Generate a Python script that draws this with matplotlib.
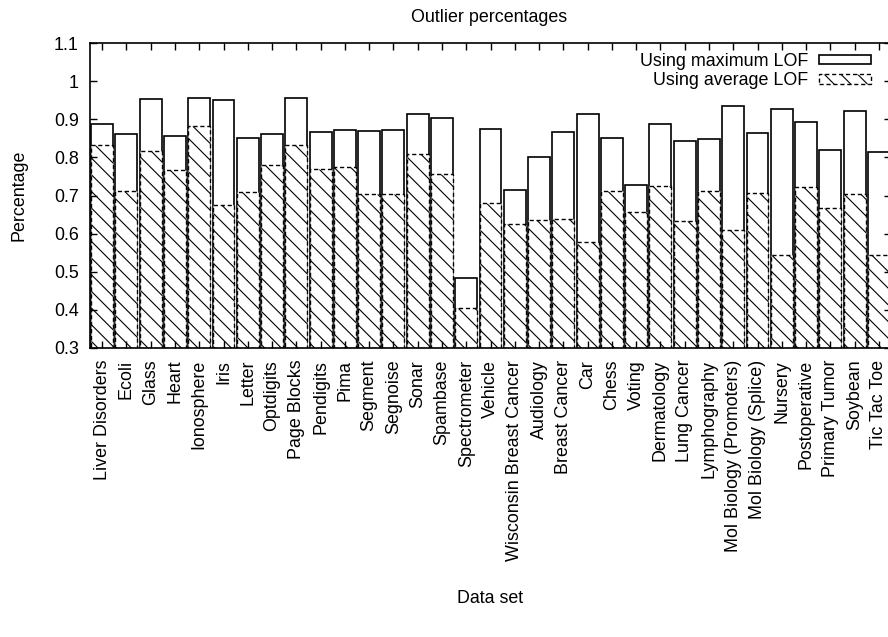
import numpy as np
import matplotlib
matplotlib.use('Agg')
import matplotlib.pyplot as plt

plt.rcParams['font.family'] = ['Liberation Sans', 'DejaVu Sans']
plt.rcParams['hatch.linewidth'] = 0.8
plt.rcParams['hatch.color'] = '#555555'

# Data
datasets = ['Liver Disorders', 'Ecoli', 'Glass', 'Heart', 'Ionosphere', 'Iris', 'Letter',
            'Optdigits', 'Page Blocks', 'Pendigits', 'Pima', 'Segment', 'Segnoise', 'Sonar',
            'Spambase', 'Spectrometer', 'Vehicle', 'Wisconsin Breast Cancer', 'Audiology',
            'Breast Cancer', 'Car', 'Chess', 'Voting', 'Dermatology', 'Lung Cancer',
            'Lymphography', 'Mol Biology (Promoters)', 'Mol Biology (Splice)', 'Nursery',
            'Postoperative', 'Primary Tumor', 'Soybean', 'Tic Tac Toe']
max_lof = [0.888, 0.862, 0.953, 0.856, 0.955, 0.951, 0.850,
           0.862, 0.955, 0.866, 0.873, 0.868, 0.872, 0.915,
           0.903, 0.484, 0.874, 0.714, 0.802,
           0.867, 0.913, 0.852, 0.728, 0.888, 0.843,
           0.847, 0.934, 0.864, 0.928,
           0.892, 0.819, 0.922, 0.814]
avg_lof = [0.833, 0.713, 0.818, 0.766, 0.883, 0.676, 0.710,
           0.780, 0.832, 0.770, 0.774, 0.705, 0.704, 0.808,
           0.756, 0.404, 0.680, 0.624, 0.637,
           0.638, 0.577, 0.711, 0.657, 0.726, 0.634,
           0.711, 0.609, 0.707, 0.543,
           0.723, 0.668, 0.704, 0.543]
yticks = [0.3, 0.4, 0.5, 0.6, 0.7, 0.8, 0.9, 1.0, 1.1]

W, H = 888, 637
fs = 12.9
fig = plt.figure(figsize=(W / 100, H / 100), dpi=100)
# axes frame goes slightly past the right edge, like the reference
ax = fig.add_axes([90 / W, 1 - 348 / H, 801 / W, 305 / H])

x = np.arange(len(datasets))
ax.bar(x, np.array(max_lof) - 0.3, bottom=0.3, width=0.9, color='white',
       edgecolor='black', linewidth=1.2, label='Using maximum LOF')
ax.bar(x, np.array(avg_lof) - 0.3, bottom=0.3, width=0.9, color='white',
       edgecolor='black', linewidth=1.0, linestyle=(0, (3, 2)), hatch='\\\\',
       label='Using average LOF')

ax.set_xlim(-0.5, len(datasets) - 0.5)
ax.set_ylim(0.3, 1.1)
ax.set_yticks(yticks)
ax.set_yticklabels(['%g' % v for v in yticks])
ax.set_xticks(x)
ax.set_xticklabels(datasets, rotation=90)
ax.tick_params(axis='both', direction='in', length=5, width=1, labelsize=fs,
               top=True, right=True)
ax.tick_params(axis='x', pad=8.5)
ax.tick_params(axis='y', pad=8)
for s in ax.spines.values():
    s.set_linewidth(1.2)

ax.set_xlabel('Data set', fontsize=fs)
ax.xaxis.set_label_coords(0.5, -0.795)
ax.set_ylabel('Percentage', fontsize=fs)
ax.yaxis.set_label_coords(-0.078, 0.5)
fig.text(489 / W, 1 - 18 / H, 'Outlier percentages', ha='center', va='center', fontsize=fs)

ax.legend(loc='upper right', bbox_to_anchor=(871 / W, 1 - 53 / H),
          bbox_transform=fig.transFigure, frameon=False, markerfirst=False,
          fontsize=fs, borderpad=0, borderaxespad=0, handlelength=2.9,
          handleheight=0.45, handletextpad=0.6, labelspacing=0.12)

fig.savefig('out.png', dpi=100)
